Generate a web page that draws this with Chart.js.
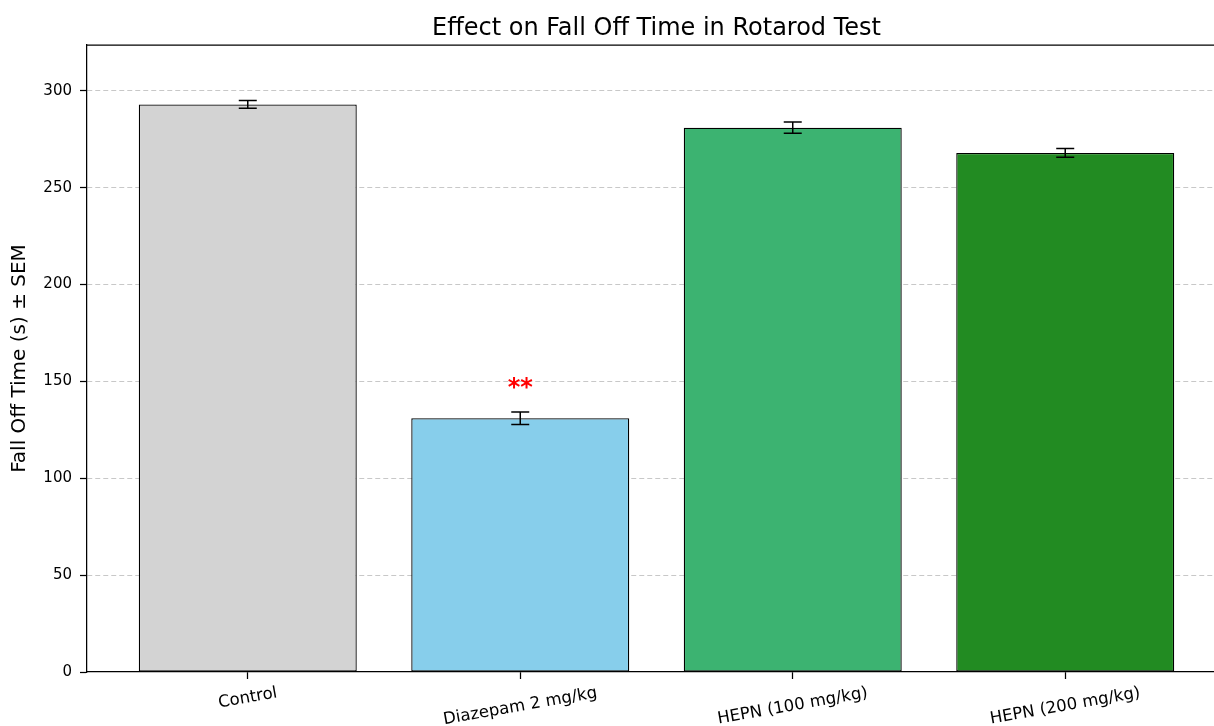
<!DOCTYPE html>
<html><head><meta charset="utf-8">
<script src="https://cdn.jsdelivr.net/npm/chart.js@4"></script>
<style>
html,body{margin:0;padding:0;background:#fff;overflow:hidden;width:1214px;height:726px}
#wrap{width:1240px;height:726px;position:relative}
</style></head>
<body><div id="wrap"><canvas id="c" width="1240" height="726"></canvas></div>
<script>
const categories = ['Control', 'Diazepam 2 mg/kg', 'HEPN (100 mg/kg)', 'HEPN (200 mg/kg)'];
const meanValues = [293, 131, 281, 268];
const semValues = [2.0, 3.2, 2.9, 2.3];
const significance = ['', '**', '', ''];
const barColors = ['#D3D3D3', '#87CEEB', '#3CB371', '#228B22'];
const yTickValues = [0, 50, 100, 150, 200, 250, 300];
const chartTitle = 'Effect on Fall Off Time in Rotarod Test';

const FONT = "'DejaVu Sans', sans-serif";

const extras = {
  id: 'extras',
  afterDatasetsDraw(chart) {
    const {ctx, scales: {x, y}} = chart;
    ctx.save();
    ctx.strokeStyle = '#000';
    ctx.lineWidth = 1.5;
    meanValues.forEach((m, i) => {
      const px = x.getPixelForValue(i);
      const yt = y.getPixelForValue(m + semValues[i]);
      const yb = y.getPixelForValue(m - semValues[i]);
      ctx.beginPath();
      ctx.moveTo(px, yt); ctx.lineTo(px, yb);
      ctx.moveTo(px - 9, yt); ctx.lineTo(px + 9, yt);
      ctx.moveTo(px - 9, yb); ctx.lineTo(px + 9, yb);
      ctx.stroke();
    });
    ctx.fillStyle = 'red';
    ctx.font = 'bold 24px ' + FONT;
    ctx.textAlign = 'center';
    ctx.textBaseline = 'middle';
    significance.forEach((s, i) => {
      if (!s) return;
      const px = x.getPixelForValue(i);
      const py = y.getPixelForValue(meanValues[i] + semValues[i] + 14);
      ctx.fillText(s, px, py + 4);
    });
    ctx.restore();
  },
  afterDraw(chart) {
    const {ctx, chartArea, scales: {x}} = chart;
    ctx.save();
    // top spine
    ctx.strokeStyle = '#000';
    ctx.lineWidth = 1.25;
    ctx.beginPath();
    ctx.moveTo(chartArea.left, chartArea.top);
    ctx.lineTo(chartArea.right, chartArea.top);
    ctx.stroke();
    // title centred over the axes
    ctx.fillStyle = '#000';
    ctx.font = '24px ' + FONT;
    ctx.textAlign = 'center';
    ctx.textBaseline = 'alphabetic';
    ctx.fillText(chartTitle, (chartArea.left + chartArea.right) / 2, chartArea.top - 10);
    // rotated category labels, centred on ticks
    const fs = 16.5;
    ctx.font = fs + 'px ' + FONT;
    ctx.textBaseline = 'middle';
    const th = 10 * Math.PI / 180;
    categories.forEach((lab, i) => {
      const w = ctx.measureText(lab).width;
      const h = fs * 1.1;
      const bh = w * Math.sin(th) + h * Math.cos(th);
      const px = x.getPixelForValue(i);
      const cy = chartArea.bottom + 12 + bh / 2;
      ctx.save();
      ctx.translate(px, cy);
      ctx.rotate(-th);
      ctx.fillText(lab, 0, 0);
      ctx.restore();
    });
    ctx.restore();
  }
};

new Chart(document.getElementById('c'), {
  type: 'bar',
  data: {
    datasets: [{
      data: meanValues.map((v, i) => ({x: i, y: v})),
      backgroundColor: barColors,
      borderColor: '#000',
      borderWidth: 1.3,
      borderSkipped: false,
      categoryPercentage: 1.0,
      barPercentage: 0.8
    }]
  },
  options: {
    responsive: false,
    animation: false,
    devicePixelRatio: 1,
    layout: {padding: {left: 0, right: 14, top: 45, bottom: 0}},
    plugins: {
      legend: {display: false},
      tooltip: {enabled: false},
      title: {display: false}
    },
    scales: {
      x: {
        type: 'linear',
        min: -0.59,
        max: 3.59,
        offset: false,
        afterBuildTicks: (axis) => { axis.ticks = categories.map((_, i) => ({value: i})); },
        afterFit: (axis) => { axis.height = 54; },
        ticks: {display: false},
        grid: {display: true, offset: false, drawOnChartArea: false, drawTicks: true, tickLength: 7, tickColor: '#000', tickWidth: 1.25},
        border: {display: true, color: '#000', width: 1.25}
      },
      y: {
        min: 0,
        max: 323.7,
        afterBuildTicks: (axis) => { axis.ticks = yTickValues.map(v => ({value: v})); },
        afterFit: (axis) => { axis.width = 87; },
        ticks: {
          color: '#000',
          font: {family: FONT, size: 15},
          padding: 8
        },
        grid: {
          color: (c) => (c.tick && c.tick.value === 0) ? 'rgba(0,0,0,0)' : 'rgba(176,176,176,0.7)',
          lineWidth: 1,
          tickLength: 7,
          tickColor: '#000',
          tickWidth: 1.25
        },
        border: {display: true, color: '#000', width: 1.25, dash: [5, 3]},
        title: {
          display: true,
          text: 'Fall Off Time (s) ± SEM',
          color: '#000',
          font: {family: FONT, size: 20},
          padding: {top: 8, bottom: 0}
        }
      }
    }
  },
  plugins: [extras]
});
</script>
</body></html>
